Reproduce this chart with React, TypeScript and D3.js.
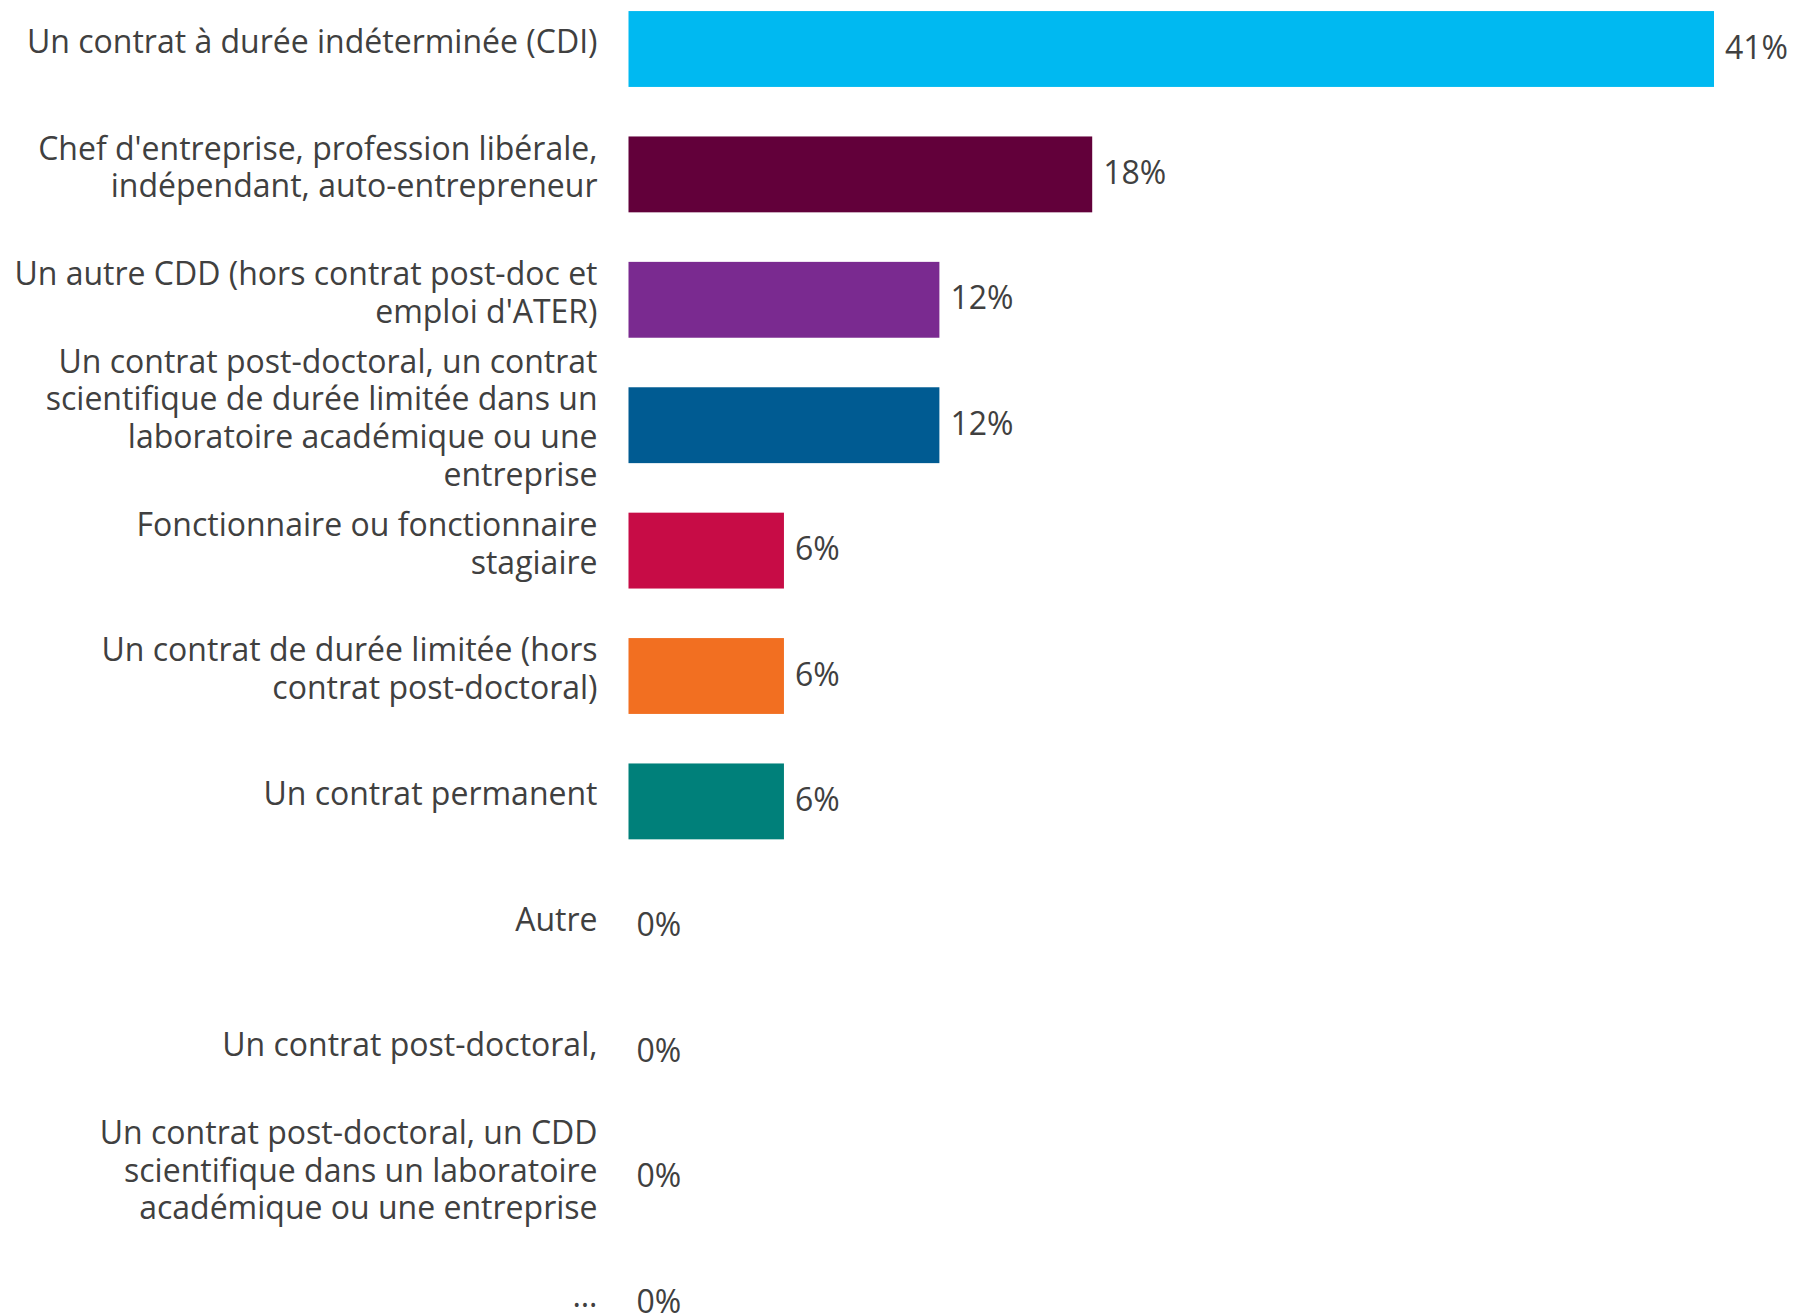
import React from "react";
import * as d3 from "d3";

const categories: string[][] = [
  ["Un contrat à durée indéterminée (CDI)"],
  ["Chef d'entreprise, profession libérale,", "indépendant, auto-entrepreneur"],
  ["Un autre CDD (hors contrat post-doc et", "emploi d'ATER)"],
  ["Un contrat post-doctoral, un contrat", "scientifique de durée limitée dans un", "laboratoire académique ou une", "entreprise"],
  ["Fonctionnaire ou fonctionnaire", "stagiaire"],
  ["Un contrat de durée limitée (hors", "contrat post-doctoral)"],
  ["Un contrat permanent"],
  ["Autre"],
  ["Un contrat post-doctoral,"],
  ["Un contrat post-doctoral, un CDD", "scientifique dans un laboratoire", "académique ou une entreprise"],
  ["…"],
];

const values: number[] = [41.2, 17.6, 11.8, 11.8, 5.9, 5.9, 5.9, 0, 0, 0, 0];

const colors: string[] = [
  "#00B9F1", "#62003A", "#7A2A90", "#005B92", "#C70C46", "#F26F21", "#00807A",
  "#00B9F1", "#62003A", "#7A2A90", "#005B92",
];

const W = 1795;
const H = 1313;
const FONT = "'Open Sans', sans-serif";
const TEXT = "#404040";
const FS = 32;
const LH = 37.8;

export default function App() {
  const ids = categories.map((_, i) => String(i));
  const step = 125.4;
  const y = d3
    .scaleBand<string>()
    .domain(ids)
    .range([49 - step / 2, 49 - step / 2 + step * ids.length])
    .paddingInner(0.395)
    .paddingOuter(0.1975);
  const x = d3.scaleLinear().domain([0, 41.2]).range([628.5, 1714]);
  const fmt = (v: number) => `${Math.round(v)}%`;

  return (
    <svg
      width={W}
      height={H}
      style={{ position: "absolute", left: 0, top: 0, background: "#fff" }}
      fontFamily={FONT}
    >
      {ids.map((id, i) => {
        const y0 = y(id)!;
        const cy = y0 + y.bandwidth() / 2;
        const lines = categories[i];
        const ly = cy - 8.5 - ((lines.length - 1) * LH) / 2;
        return (
          <g key={id}>
            {values[i] > 0 && (
              <rect
                x={x(0)}
                y={y0}
                width={x(values[i]) - x(0)}
                height={y.bandwidth()}
                fill={colors[i]}
              />
            )}
            <text
              x={x(values[i]) + (values[i] > 0 ? 11 : 8)}
              y={cy - 3}
              dominantBaseline="central"
              fontSize={FS}
              fill={TEXT}
            >
              {fmt(values[i])}
            </text>
            <text x={597.5} textAnchor="end" fontSize={FS} fill={TEXT}>
              {lines.map((l, j) => (
                <tspan key={j} x={597.5} y={ly + j * LH} dominantBaseline="central">
                  {l}
                </tspan>
              ))}
            </text>
          </g>
        );
      })}
    </svg>
  );
}
